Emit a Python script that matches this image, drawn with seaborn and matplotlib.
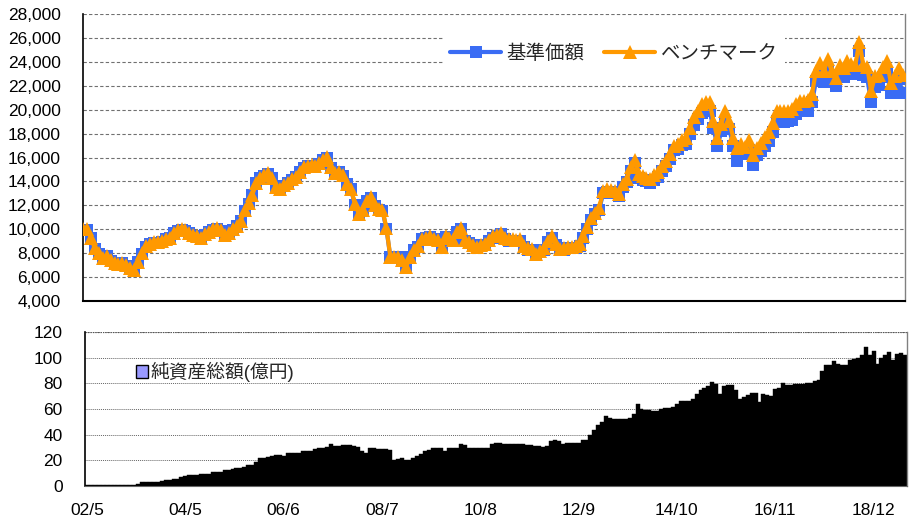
import numpy as np
import pandas as pd
import matplotlib
matplotlib.use("Agg")
import matplotlib.pyplot as plt
from matplotlib.patches import Patch
from matplotlib.ticker import FuncFormatter
import seaborn as sns

# ---------------- data ----------------
tick_labels = ['02/5', '04/5', '06/6', '08/7', '10/8', '12/9', '14/10', '16/11', '18/12']

benchmark = [
    10000, 10000, 9300, 8400, 8000, 7600, 7800, 7400, 7200, 7100,
    7200, 7000, 6800, 6600, 7300, 8000, 8600, 8800, 8900, 8900,
    9000, 9200, 9300, 9700, 9900, 10000, 9900, 9700, 9500, 9400,
    9300, 9600, 9800, 10000, 10100, 9900, 9500, 9700, 10000, 10300,
    10700, 11600, 12200, 12900, 13900, 14300, 14500, 14700, 14300, 13500,
    13400, 13700, 13900, 14200, 14400, 14800, 15200, 15300, 15350, 15300,
    15500, 15800, 16050, 15200, 14700, 14800, 14500, 13800, 13400, 12100,
    11300, 11600, 12400, 12700, 12000, 11700, 11600, 10100, 7700, 7700,
    7700, 7400, 6850, 7700, 8300, 8600, 9200, 9300, 9400, 9200,
    9100, 8550, 9400, 9300, 9100, 9800, 10100, 9100, 8900, 8700,
    8500, 8700, 8750, 9100, 9400, 9500, 9700, 9300, 9150, 9150,
    9100, 9150, 8600, 8400, 8350, 7950, 8200, 8400, 9000, 9400,
    8750, 8350, 8400, 8500, 8500, 8600, 8750, 9400, 10200, 10900,
    11400, 11800, 13200, 13350, 13300, 13200, 12950, 13800, 14200, 15200,
    15800, 14600, 14450, 14300, 14200, 14500, 14750, 15300, 15700, 16300,
    17000, 17100, 17500, 17650, 18500, 19350, 19900, 20450, 20600, 20600,
    19050, 17650, 18800, 19900, 19050, 17650, 16800, 17100, 16900, 17500,
    16250, 16800, 17250, 17700, 18100, 18900, 19900, 19900, 19900, 19900,
    20050, 20450, 20750, 20750, 20800, 21300, 23250, 23900, 23250, 24200,
    23250, 22650, 23750, 23500, 24050, 23800, 23700, 25700, 23750, 23600,
    21550, 22800, 22900, 23600, 24050, 22250, 22800, 23500, 22900,
]

nav = [
    9950, 9950, 9250, 8350, 7950, 7550, 7750, 7350, 7150, 7050,
    7150, 6950, 6750, 6550, 7250, 7950, 8550, 8750, 8850, 8850,
    8950, 9150, 9250, 9650, 9850, 9950, 9850, 9650, 9450, 9350,
    9250, 9550, 9750, 9950, 10050, 9850, 9450, 9650, 9950, 10250,
    10650, 11550, 12150, 12850, 13850, 14250, 14450, 14650, 14250, 13450,
    13350, 13650, 13850, 14150, 14350, 14750, 15150, 15250, 15300, 15250,
    15450, 15750, 16000, 15150, 14650, 14750, 14450, 13750, 13350, 12050,
    11250, 11550, 12350, 12650, 11950, 11650, 11550, 10050, 7650, 7650,
    7650, 7350, 6800, 7650, 8250, 8550, 9150, 9250, 9350, 9150,
    9050, 8500, 9350, 9250, 9050, 9750, 10050, 9050, 8850, 8650,
    8450, 8600, 8650, 9000, 9300, 9400, 9600, 9200, 9050, 9050,
    9000, 9050, 8500, 8300, 8250, 7850, 8100, 8300, 8900, 9300,
    8650, 8250, 8300, 8400, 8400, 8450, 8600, 9250, 10050, 10750,
    11250, 11650, 13000, 13150, 13100, 13000, 12750, 13550, 13950, 14900,
    15500, 14300, 14150, 14000, 13900, 14150, 14400, 14900, 15300, 15900,
    16600, 16700, 17050, 17150, 17950, 18750, 19250, 19750, 19850, 19900,
    18450, 16950, 18200, 18900, 18400, 17000, 15700, 16400, 16300, 16600,
    15400, 16200, 16550, 17000, 17400, 18150, 19050, 19050, 19000, 19050,
    19100, 19600, 19850, 19850, 19900, 20600, 22400, 22950, 22300, 23250,
    22400, 22000, 22900, 22700, 23050, 23100, 22950, 24900, 22900, 22700,
    20600, 21900, 22050, 22700, 23100, 21400, 21900, 22600, 21400,
]

net_assets = [
    0.8, 0.8, 0.8, 0.8, 0.8, 0.8, 0.8, 0.8, 0.8, 0.8,
    0.8, 0.8, 1.0, 1.5, 3.0, 3.0, 3.0, 3.2, 3.5, 4.2,
    4.4, 4.6, 5.5, 5.8, 7.0, 7.5, 8.5, 8.8, 8.8, 9.0,
    9.0, 9.2, 11.0, 11.0, 11.2, 12.4, 12.7, 13.0, 14.0, 14.3,
    14.8, 16.0, 16.5, 18.7, 21.5, 22.0, 22.3, 23.5, 24.0, 24.2,
    23.5, 25.5, 25.7, 26.0, 26.0, 27.0, 27.3, 27.5, 29.0, 29.8,
    30.0, 30.2, 33.0, 31.0, 31.5, 32.0, 32.2, 32.0, 31.0, 30.5,
    27.0, 25.7, 29.9, 29.5, 29.0, 29.0, 28.8, 27.8, 20.5, 20.8,
    22.0, 20.5, 20.3, 21.8, 23.0, 24.7, 27.5, 28.0, 29.6, 29.6,
    29.3, 27.3, 29.6, 29.6, 29.8, 32.5, 32.3, 30.0, 29.9, 29.5,
    29.9, 30.0, 30.0, 33.0, 33.5, 33.5, 33.0, 32.5, 32.5, 33.0,
    33.0, 32.8, 31.7, 31.7, 31.5, 31.0, 30.4, 31.0, 35.0, 36.1,
    35.0, 32.5, 33.5, 33.5, 33.3, 33.6, 35.6, 36.0, 40.0, 43.9,
    47.3, 50.0, 54.3, 53.0, 52.5, 52.3, 52.5, 52.5, 52.8, 56.4,
    63.6, 60.0, 59.5, 59.5, 58.4, 58.4, 60.3, 61.0, 61.0, 61.5,
    64.2, 66.0, 66.2, 66.5, 67.5, 72.0, 74.5, 76.0, 77.7, 81.0,
    79.7, 71.4, 77.7, 79.0, 79.0, 75.0, 68.0, 69.0, 70.6, 72.5,
    72.5, 65.5, 71.4, 71.0, 69.9, 75.8, 76.0, 80.3, 79.0, 79.0,
    79.2, 79.2, 79.5, 80.3, 80.5, 81.6, 82.9, 89.6, 94.0, 94.5,
    97.4, 95.3, 94.5, 94.5, 98.4, 99.2, 100.0, 102.3, 108.3, 101.8,
    105.2, 95.3, 100.0, 102.3, 104.4, 98.4, 102.6, 103.6, 101.8,
]

n = min(len(benchmark), len(nav), len(net_assets))
df = pd.DataFrame({
    'idx': np.arange(n),
    '基準価額': nav[:n],
    'ベンチマーク': benchmark[:n],
    'assets': net_assets[:n],
})
tick_pos = list(range(0, 25 * len(tick_labels), 25))

# ---------------- style ----------------
sns.set_style('white')
plt.rcParams['font.family'] = ['Liberation Sans', 'Noto Sans CJK JP', 'DejaVu Sans']

BLUE = '#3A6CF4'
ORANGE = '#FF9900'

fig = plt.figure(figsize=(9.10, 5.17), dpi=100)
ax1 = fig.add_axes([83 / 910, 1 - 301 / 517, 822 / 910, 287 / 517])
ax2 = fig.add_axes([85 / 910, 1 - 486 / 517, 822 / 910, 154 / 517])

# ---------------- top panel ----------------
sns.lineplot(data=df, x='idx', y='基準価額', ax=ax1, color=BLUE, marker='s',
             markersize=8, markeredgewidth=0, linewidth=3.0, label='基準価額', zorder=3)
sns.lineplot(data=df, x='idx', y='ベンチマーク', ax=ax1, color=ORANGE, marker='^',
             markersize=9.5, markeredgewidth=0, linewidth=3.0, label='ベンチマーク', zorder=4)

ax1.set_xlim(0, n - 1 + 0.6)
ax1.set_ylim(4000, 28000)
ax1.set_yticks(np.arange(4000, 28001, 2000))
ax1.yaxis.set_major_formatter(FuncFormatter(lambda v, p: f'{int(v):,}'))
ax1.set_xticks(tick_pos)
ax1.set_xticklabels([])
ax1.set_xlabel('')
ax1.set_ylabel('')
ax1.grid(axis='y', color='#707070', linestyle=(0, (3, 2)), linewidth=0.8)
ax1.grid(axis='x', visible=False)
ax1.set_axisbelow(True)
ax1.tick_params(axis='y', length=0, pad=16, labelsize=12.5, colors='black')
ax1.tick_params(axis='x', direction='in', length=5, width=1, color='#999999')
ax1.spines['left'].set_color('black')
ax1.spines['left'].set_linewidth(1.2)
ax1.spines['bottom'].set_color('black')
ax1.spines['bottom'].set_linewidth(1.5)
ax1.spines['top'].set_visible(False)
ax1.spines['right'].set_color('#808080')
ax1.spines['right'].set_linewidth(1.0)

leg = ax1.legend(loc='center', bbox_to_anchor=(0.646, 0.861), ncol=2, fontsize=14,
                 handlelength=2.6, handletextpad=0.3, columnspacing=1.0,
                 frameon=True, fancybox=False, borderpad=0.4, markerscale=1.0)
leg.get_frame().set_facecolor('white')
leg.get_frame().set_edgecolor('none')
leg.get_frame().set_alpha(1)
leg.set_zorder(10)

# ---------------- bottom panel ----------------
sns.barplot(data=df, x='idx', y='assets', ax=ax2, color='black', width=1.0,
            edgecolor='black', linewidth=0.3, saturation=1)
ax2.set_xlim(-0.5, n - 0.5)
ax2.set_ylim(0, 120)
ax2.set_yticks(np.arange(0, 121, 20))
ax2.set_xticks(tick_pos)
ax2.set_xticklabels(tick_labels)
ax2.set_xlabel('')
ax2.set_ylabel('')
ax2.grid(axis='y', color='#666666', linestyle=(0, (1, 1)), linewidth=0.7)
ax2.grid(axis='x', visible=False)
ax2.set_axisbelow(True)
ax2.tick_params(axis='y', length=0, pad=16, labelsize=12.5, colors='black')
ax2.tick_params(axis='x', length=0, pad=12, labelsize=12.5, colors='black')
ax2.spines['left'].set_color('black')
ax2.spines['left'].set_linewidth(1.2)
ax2.spines['top'].set_visible(False)
ax2.spines['bottom'].set_color('#666666')
ax2.spines['bottom'].set_linewidth(0.8)
ax2.spines['right'].set_color('#808080')
ax2.spines['right'].set_linewidth(1.0)
ax2.axhline(120, color='#555555', linestyle=(0, (1, 1)), linewidth=0.9)

handle = Patch(facecolor='#9999FF', edgecolor='black', linewidth=1.0)
ax2.legend([handle], ['純資産総額(億円)'], loc='center left',
           bbox_to_anchor=(0.062, 0.74), frameon=False, fontsize=13.5,
           handlelength=0.65, handleheight=0.65, handletextpad=0.15,
           borderpad=0, borderaxespad=0)

fig.savefig('out.png', dpi=100)
